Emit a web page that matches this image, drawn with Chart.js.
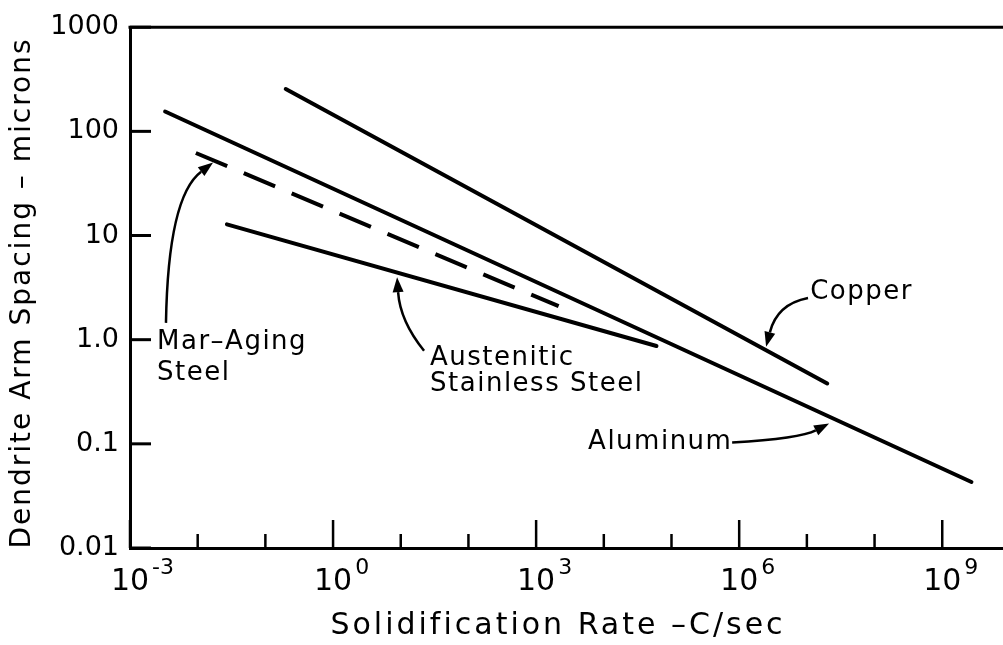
<!DOCTYPE html>
<html>
<head>
<meta charset="utf-8">
<script src="https://cdn.jsdelivr.net/npm/chart.js@4.4.0/dist/chart.umd.min.js"></script>
<style>
  html, body { margin: 0; padding: 0; background: #fff; }
  #wrap { width: 1003px; height: 645px; }
</style>
</head>
<body>
<div id="wrap"><canvas id="chart"></canvas></div>
<script>
// end points of each line: x = solidification rate (C/sec), y = arm spacing (microns)
const aluminumX = [0.0033, 2.7e9];
const aluminumY = [155, 0.043];
const copperX = [0.2, 2.0e7];
const copperY = [255, 0.38];
const austeniticX = [0.027, 6.0e4];
const austeniticY = [12.8, 0.87];
const marAgingX = [0.0094, 2150];
const marAgingY = [62, 2.1];

// axes
const yTickValues = [0.01, 0.1, 1, 10, 100, 1000];
const yTickLabels = ['0.01', '0.1', '1.0', '10', '100', '1000'];
const xDecades = [-3, -2, -1, 0, 1, 2, 3, 4, 5, 6, 7, 8, 9];
const xLabelExps = [-3, 0, 3, 6, 9];
const xTitle = 'Solidification Rate –C/sec';
const yTitle = 'Dendrite Arm Spacing – microns';

// labels on the plot (data coordinates)
const noteText = ['Copper', 'Aluminum', 'Austenitic', 'Stainless Steel', 'Mar–Aging', 'Steel'];
const noteX = [1.12e7, 5860, 27.1, 27.1, 0.00251, 0.00251];
const noteY = [2.86, 0.103, 0.670, 0.370, 0.953, 0.471];

// arrows: start, bend, tip (data coordinates)
const arrowStart = [[1.04e7, 2.51], [7.87e5, 0.103], [22.1, 0.782], [0.0034, 1.45]];
const arrowBend = [[3.64e6, 2.20], [7.96e6, 0.113], [9.77, 1.51], [0.00365, 23.7]];
const arrowTip = [[2.50e6, 0.853], [2.13e7, 0.157], [8.83, 3.98], [0.0169, 50.1]];

const FONT = '"DejaVu Sans", sans-serif';

function toPoints(xs, ys) {
    return xs.map((x, i) => ({ x: x, y: ys[i] }));
}

function seg(ctx, x1, y1, x2, y2) {
    ctx.beginPath();
    ctx.moveTo(x1, y1);
    ctx.lineTo(x2, y2);
    ctx.stroke();
}

// ticks inside the frame, top line, superscript labels, titles and notes
const decorPlugin = {
    id: 'decor',
    afterDatasetsDraw(chart) {
        const ctx = chart.ctx;
        const a = chart.chartArea;
        const x = chart.scales.x;
        const y = chart.scales.y;
        ctx.save();
        ctx.strokeStyle = '#000';
        ctx.fillStyle = '#000';
        ctx.lineCap = 'butt';

        ctx.lineWidth = 3;
        seg(ctx, a.left - 1.5, a.top, a.right, a.top);

        yTickValues.forEach(v => {
            const py = y.getPixelForValue(v);
            seg(ctx, a.left, py, a.left + 21, py);
        });

        ctx.lineWidth = 2.5;
        xDecades.forEach(e => {
            const px = x.getPixelForValue(Math.pow(10, e));
            const len = e % 3 === 0 ? 28 : 14;
            seg(ctx, px, a.bottom, px, a.bottom - len);
        });

        // 10^n labels
        ctx.textBaseline = 'middle';
        xLabelExps.forEach(e => {
            const px = x.getPixelForValue(Math.pow(10, e));
            ctx.font = '30px ' + FONT;
            ctx.textAlign = 'center';
            const w = ctx.measureText('10').width;
            ctx.fillText('10', px, 582);
            ctx.font = '22px ' + FONT;
            ctx.textAlign = 'left';
            ctx.fillText(String(e), px + w / 2 + 3, 568);
        });

        // axis titles
        ctx.letterSpacing = '3px';
        ctx.font = '30px ' + FONT;
        ctx.textAlign = 'center';
        ctx.fillText(xTitle, 558, 626);
        ctx.save();
        ctx.translate(23, 293);
        ctx.rotate(-Math.PI / 2);
        ctx.letterSpacing = '2px';
        ctx.font = '28px ' + FONT;
        ctx.fillText(yTitle, 0, 0);
        ctx.restore();

        // notes
        ctx.letterSpacing = '1.5px';
        ctx.font = '26px ' + FONT;
        ctx.textAlign = 'left';
        noteText.forEach((t, i) => {
            ctx.fillText(t, x.getPixelForValue(noteX[i]), y.getPixelForValue(noteY[i]));
        });

        // arrows
        ctx.lineWidth = 2.5;
        arrowTip.forEach((tip, i) => {
            const sx = x.getPixelForValue(arrowStart[i][0]);
            const sy = y.getPixelForValue(arrowStart[i][1]);
            const cx = x.getPixelForValue(arrowBend[i][0]);
            const cy = y.getPixelForValue(arrowBend[i][1]);
            const tx = x.getPixelForValue(tip[0]);
            const ty = y.getPixelForValue(tip[1]);
            const ang = Math.atan2(ty - cy, tx - cx);
            const hl = 15, hw = 5.5;
            const bx = tx - hl * Math.cos(ang);
            const by = ty - hl * Math.sin(ang);
            ctx.beginPath();
            ctx.moveTo(sx, sy);
            ctx.quadraticCurveTo(cx, cy, bx, by);
            ctx.stroke();
            ctx.beginPath();
            ctx.moveTo(tx, ty);
            ctx.lineTo(bx + hw * Math.sin(ang), by - hw * Math.cos(ang));
            ctx.lineTo(bx - hw * Math.sin(ang), by + hw * Math.cos(ang));
            ctx.closePath();
            ctx.fill();
        });
        ctx.restore();
    }
};

function lineSet(label, xs, ys, dash) {
    return {
        label: label,
        data: toPoints(xs, ys),
        borderColor: '#000',
        borderWidth: 4,
        borderDash: dash || [],
        borderCapStyle: dash ? 'butt' : 'round',
        pointRadius: 0,
        fill: false,
        tension: 0
    };
}

const ctx = document.getElementById('chart').getContext('2d');
new Chart(ctx, {
    type: 'line',
    data: {
        datasets: [
            lineSet('Aluminum', aluminumX, aluminumY),
            lineSet('Copper', copperX, copperY),
            lineSet('Austenitic Stainless Steel', austeniticX, austeniticY),
            lineSet('Mar-Aging Steel', marAgingX, marAgingY, [34, 18])
        ]
    },
    options: {
        responsive: true,
        maintainAspectRatio: false,
        animation: false,
        devicePixelRatio: 1,
        layout: { padding: { top: 25, right: 0, left: 0, bottom: 0 } },
        plugins: { legend: { display: false }, tooltip: { enabled: false } },
        scales: {
            x: {
                type: 'logarithmic',
                min: 1e-3,
                max: 7.9e9,
                grid: { display: false, drawTicks: false },
                border: { display: true, color: '#000', width: 3 },
                ticks: { display: false },
                afterFit: scale => { scale.height = 97; }
            },
            y: {
                type: 'logarithmic',
                min: 0.01,
                max: 1000,
                grid: { display: false, drawTicks: false },
                border: { display: true, color: '#000', width: 3 },
                afterBuildTicks: scale => {
                    scale.ticks = yTickValues.map(v => ({ value: v }));
                },
                ticks: {
                    color: '#000',
                    padding: 11,
                    font: { family: FONT, size: 27 },
                    callback: (value, index) => yTickLabels[index]
                },
                afterFit: scale => { scale.width = 130; }
            }
        }
    },
    plugins: [decorPlugin]
});
</script>
</body>
</html>
